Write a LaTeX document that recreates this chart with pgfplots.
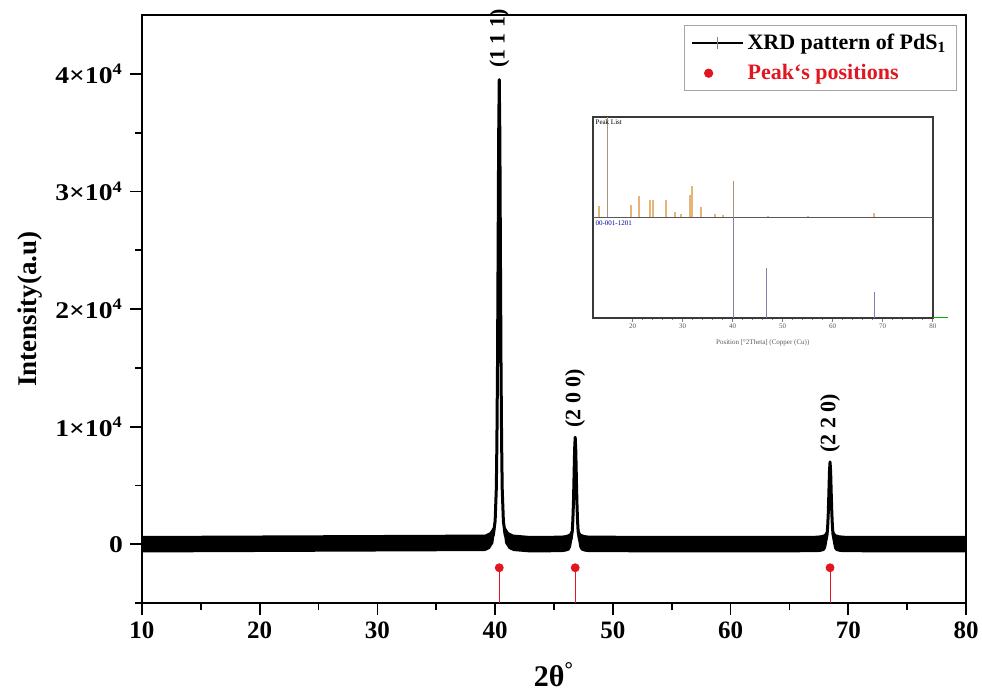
\documentclass[border=0pt]{standalone}
\usepackage{fontspec}
\setmainfont{Liberation Serif}
\usepackage{graphicx}
\usepackage{pgfplots}
\pgfplotsset{compat=1.18}
\definecolor{pkred}{RGB}{226,22,32}
\definecolor{barorange}{RGB}{230,180,120}
\definecolor{refblue}{RGB}{125,130,170}
\newcommand{\yl}[1]{\scalebox{1.15}[1]{#1×10\textsuperscript{4}}}
\begin{document}
\begin{tikzpicture}
\begin{axis}[name=main, scale only axis, width=412pt, height=294pt,
  xmin=10, xmax=80, ymin=-5000, ymax=45000,
  axis line style={line width=1pt},
  tick style={black, line width=0.9pt},
  tick align=outside, tick pos=left,
  major tick length=6pt, minor tick length=3.5pt,
  xtick={10,20,...,80}, minor xtick={15,25,...,75},
  xticklabels={10,20,30,40,50,60,70,80},
  xticklabel style={font=\bfseries\fontsize{12.5}{14}\selectfont},
  ytick={0,10000,20000,30000,40000},
  minor ytick={-5000,5000,15000,25000,35000},
  yticklabels={\scalebox{1.15}[1]{0},\yl{1},\yl{2},\yl{3},\yl{4}},
  yticklabel style={font=\bfseries\fontsize{12}{14}\selectfont},
  scaled y ticks=false,
  clip=false,
  xlabel={2θ\textsuperscript{°}},
  xlabel style={font=\bfseries\fontsize{15}{17}\selectfont, at={(axis description cs:0.5,-0.122)}, anchor=center},
  ylabel={Intensity(a.u)},
  ylabel style={font=\bfseries\fontsize{13.5}{15}\selectfont, at={(axis description cs:-0.136,0.5)}, anchor=center},
  legend style={at={(0.989,0.983)}, anchor=north east, draw=gray!70, line width=0.6pt,
    font=\bfseries\fontsize{11}{12}\selectfont, inner xsep=3pt, inner ysep=2pt, row sep=2pt,
    cells={anchor=west}},
]
% noise band around the baseline (upper edge, then lower edge back)
\addplot[fill=black, draw=none, forget plot] coordinates {
 (10,700)(39.15,820)(39.55,1016)(39.85,1490)(40.0,2675)(40.1,5440)(40.15,9390)(40.2,15710)
 (40.2,14310)(40.15,7990)(40.1,4040)(40.0,1275)(39.85,90)(39.55,-384)(39.15,-580)(10,-700)} -- cycle;
\addplot[fill=black, draw=none, forget plot] coordinates {
 (40.5,15710)(40.55,9390)(40.6,5440)(40.7,2675)(40.85,1490)(41.15,1016)(41.55,820)(43,700)(45.6,727)(46.0,773)(46.3,882)(46.45,1155)(46.55,1790)(46.6,2700)(46.65,4160)(46.7,6340)
 (46.7,4940)(46.65,2760)(46.6,1300)(46.55,390)(46.45,-245)(46.3,-518)(46.0,-627)(45.6,-673)(43,-700)(41.55,-580)(41.15,-384)(40.85,90)(40.7,1275)(40.6,4040)(40.55,7990)(40.5,14310)} -- cycle;
\addplot[fill=black, draw=none, forget plot] coordinates {
 (46.9,6340)(46.95,4160)(47.0,2700)(47.05,1790)(47.15,1155)(47.3,882)(47.6,773)(48.0,727)(58,700)(67.25,721)(67.65,756)(67.95,840)(68.1,1050)(68.2,1540)(68.25,2240)(68.3,3360)(68.35,5040)
 (68.35,3640)(68.3,1960)(68.25,840)(68.2,140)(68.1,-350)(67.95,-560)(67.65,-644)(67.25,-679)(58,-700)(48.0,-673)(47.6,-627)(47.3,-518)(47.15,-245)(47.05,390)(47.0,1300)(46.95,2760)(46.9,4940)} -- cycle;
\addplot[fill=black, draw=none, forget plot] coordinates {
 (68.55,5040)(68.6,3360)(68.65,2240)(68.7,1540)(68.8,1050)(68.95,840)(69.25,756)(69.65,721)(80,700)
 (80,-700)(69.65,-679)(69.25,-644)(68.95,-560)(68.8,-350)(68.7,140)(68.65,840)(68.6,1960)(68.55,3640)} -- cycle;
% XRD pattern
\addplot[black, line width=1.5pt, line join=round,
  legend image code/.code={\draw[black, line width=0.8pt] (0cm,0cm) -- (0.9cm,0cm);
    \draw[gray, line width=0.4pt] (0.45cm,-3pt) -- (0.45cm,3pt);}] coordinates {
 (10,0)(39.15,120)(39.55,316)(39.85,790)(40.0,1975)(40.1,4740)(40.15,8690)(40.2,15010)(40.25,24490)(40.3,34760)(40.35,39500)
 (40.4,34760)(40.45,24490)(40.5,15010)(40.55,8690)(40.6,4740)(40.7,1975)(40.85,790)(41.15,316)(41.55,120)(43,0)
 (45.6,27)(46.0,73)(46.3,182)(46.45,455)(46.55,1090)(46.6,2000)(46.65,3460)(46.7,5640)(46.75,8010)(46.8,9100)
 (46.85,8010)(46.9,5640)(46.95,3460)(47.0,2000)(47.05,1090)(47.15,455)(47.3,182)(47.6,73)(48.0,27)(58,0)
 (67.25,21)(67.65,56)(67.95,140)(68.1,350)(68.2,840)(68.25,1540)(68.3,2660)(68.35,4340)(68.4,6160)(68.45,7000)
 (68.5,6160)(68.55,4340)(68.6,2660)(68.65,1540)(68.7,840)(68.8,350)(68.95,140)(69.25,56)(69.65,21)(80,0)};
\addlegendentry{XRD pattern of PdS\textsubscript{1}}
% peak positions
\addplot[only marks, mark=*, mark size=2pt, pkred, mark options={fill=pkred, draw=pkred}]
  coordinates {(40.35,-2000)(46.8,-2000)(68.45,-2000)};
\addlegendentry{\textcolor{pkred}{Peak`s positions}}
\addplot[pkred, line width=0.5pt, forget plot] coordinates {(40.35,-5000)(40.35,-2000)};
\addplot[pkred, line width=0.5pt, forget plot] coordinates {(46.8,-5000)(46.8,-2000)};
\addplot[pkred, line width=0.5pt, forget plot] coordinates {(68.45,-5000)(68.45,-2000)};
% hkl labels
\node[rotate=90, anchor=west, font=\bfseries\fontsize{11}{12}\selectfont, inner sep=1pt] at (axis cs:40.35,40300) {(1 1 1)};
\node[rotate=90, anchor=west, font=\bfseries\fontsize{11}{12}\selectfont, inner sep=1pt] at (axis cs:46.8,9700) {(2 0 0)};
\node[rotate=90, anchor=west, font=\bfseries\fontsize{11}{12}\selectfont, inner sep=1pt] at (axis cs:68.45,7600) {(2 2 0)};
\coordinate (insetSW) at (rel axis cs:0.547,0.485);
\coordinate (bbSW) at (rel axis cs:-0.1723,-0.1565);
\coordinate (bbNE) at (rel axis cs:1.0194,1.0255);
\end{axis}
% inset
\begin{axis}[at={(insetSW)}, anchor=south west, scale only axis, width=170pt, height=100.5pt,
  xmin=12, xmax=80, ymin=-100, ymax=100,
  axis line style={gray!45!black, line width=0.9pt},
  ytick=\empty, xtick={20,30,...,80}, minor x tick num=4,
  tick align=outside, xtick pos=bottom,
  major tick length=2pt, minor tick length=1pt,
  tick style={gray, line width=0.3pt},
  xticklabels={20,30,40,50,60,70,80},
  xticklabel style={font=\fontsize{3.5}{4}\selectfont, text=gray!70!black, inner sep=1pt},
  xlabel={Position [°2Theta] (Copper (Cu))},
  xlabel style={font=\fontsize{3.5}{4}\selectfont, text=gray!70!black, at={(axis description cs:0.5,-0.125)}, anchor=center},
  clip=false]
\addplot[gray!70!black, line width=0.6pt] coordinates {(12,0)(80,0)};
\addplot[ycomb, barorange, line width=0.8pt] coordinates {
 (13.3,11)(19.7,12)(21.3,21)(23.4,17)(24.0,17)(26.7,17)(28.4,5)(29.7,3)(31.4,22)(31.9,31)(33.6,10)(36.4,3)(38.0,2)(47.0,1)(55.0,1)(68.2,4)};
\addplot[ycomb, gray!60!barorange, line width=0.6pt] coordinates {(14.9,100)(40.2,36)};
\addplot[refblue, line width=0.7pt] coordinates {(40.2,-100)(40.2,0)};
\addplot[refblue, line width=0.7pt] coordinates {(46.8,-100)(46.8,-50)};
\addplot[refblue, line width=0.7pt] coordinates {(68.4,-100)(68.4,-74)};
\addplot[green!70!black, line width=0.5pt] coordinates {(80,-100)(83,-100)};
\node[anchor=north west, font=\fontsize{3.5}{4}\selectfont, inner sep=0.5pt] at (axis cs:12.3,99) {Peak List};
\node[anchor=north west, font=\fontsize{3.5}{4}\selectfont, text=blue!60!black, inner sep=0.5pt] at (axis cs:12.3,-2) {00-001-1201};
\end{axis}
\pgfresetboundingbox
\path[use as bounding box] (bbSW) rectangle (bbNE);
\end{tikzpicture}
\end{document}
